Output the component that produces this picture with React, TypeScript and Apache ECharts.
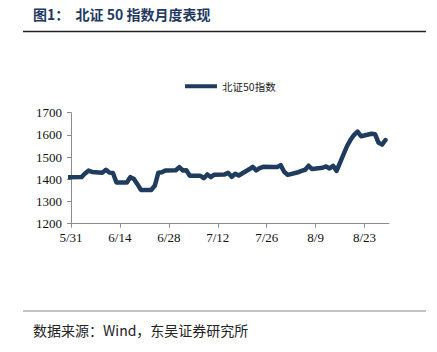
import React, { useEffect, useRef } from "react";
import * as echarts from "echarts";

const dates: string[] = [
  "2025-05-30", "2025-06-03", "2025-06-04", "2025-06-05", "2025-06-06",
  "2025-06-09", "2025-06-10", "2025-06-11", "2025-06-12", "2025-06-13",
  "2025-06-16", "2025-06-17", "2025-06-18", "2025-06-19", "2025-06-20",
  "2025-06-23", "2025-06-24", "2025-06-25", "2025-06-26", "2025-06-27",
  "2025-06-30", "2025-07-01", "2025-07-02", "2025-07-03", "2025-07-04",
  "2025-07-07", "2025-07-08", "2025-07-09", "2025-07-10", "2025-07-11",
  "2025-07-14", "2025-07-15", "2025-07-16", "2025-07-17", "2025-07-18",
  "2025-07-21", "2025-07-22", "2025-07-23", "2025-07-24", "2025-07-25",
  "2025-07-28", "2025-07-29", "2025-07-30", "2025-07-31", "2025-08-01",
  "2025-08-04", "2025-08-05", "2025-08-06", "2025-08-07", "2025-08-08",
  "2025-08-11", "2025-08-12", "2025-08-13", "2025-08-14", "2025-08-15",
  "2025-08-18", "2025-08-19", "2025-08-20", "2025-08-21", "2025-08-22",
  "2025-08-25", "2025-08-26", "2025-08-27", "2025-08-28", "2025-08-29",
];

const bse50: number[] = [
  1409, 1410, 1426, 1439, 1433,
  1430, 1443, 1430, 1428, 1386,
  1386, 1410, 1401, 1378, 1352,
  1352, 1372, 1430, 1432, 1440,
  1441, 1455, 1440, 1441, 1416,
  1416, 1405, 1422, 1410, 1421,
  1422, 1429, 1411, 1425, 1417,
  1445, 1456, 1440, 1450, 1456,
  1455, 1455, 1464, 1434, 1420,
  1432, 1438, 1443, 1461, 1446,
  1452, 1458, 1449, 1461, 1438,
  1550, 1578, 1600, 1615, 1594,
  1605, 1603, 1565, 1556, 1577,
];

const axisStartDate = "2025-05-31";
const axisEndDate = "2025-08-30";
const tickStepDays = 14;
const yTicks: number[] = [1200, 1300, 1400, 1500, 1600, 1700];
const seriesName = "北证50指数";
const titleText = "图1：  北证 50 指数月度表现";
const sourceText = "数据来源：Wind，东吴证券研究所";

const DAY = 86400000;
const base = Date.parse(axisStartDate + "T00:00:00Z");
const toDay = (s: string) => Math.round((Date.parse(s + "T00:00:00Z") - base) / DAY);
const dayLabel = (d: number) => {
  const dt = new Date(base + d * DAY);
  return `${dt.getUTCMonth() + 1}/${dt.getUTCDate()}`;
};

export default function App() {
  const ref = useRef<HTMLDivElement>(null);
  useEffect(() => {
    if (!ref.current) return;
    const chart = echarts.init(ref.current, undefined, { renderer: "svg" });
    const maxDay = toDay(axisEndDate);
    const tickDays: number[] = [];
    for (let d = 0; d <= maxDay; d += tickStepDays) tickDays.push(d);
    const serif = "Liberation Serif";
    chart.setOption({
      animation: false,
      backgroundColor: "#ffffff",
      grid: { left: 71, right: 48, top: 112.7, bottom: 128.3, containLabel: false },
      legend: {
        show: true,
        left: 180,
        top: 76,
        icon: "rect",
        itemWidth: 32,
        itemHeight: 4,
        textStyle: { fontSize: 10.5, color: "#222", fontFamily: "Noto Sans CJK SC" },
        data: [seriesName],
      },
      xAxis: {
        type: "value",
        min: 0,
        max: maxDay,
        interval: tickStepDays,
        axisLine: { show: true, lineStyle: { color: "#8c8c8c", width: 1 } },
        axisTick: { show: true, length: 4, lineStyle: { color: "#8c8c8c" }, customValues: tickDays },
        axisLabel: {
          customValues: tickDays,
          formatter: (v: number) => dayLabel(v),
          fontFamily: serif,
          fontSize: 13,
          color: "#111",
          margin: 7,
        },
        splitLine: { show: false },
      },
      yAxis: {
        type: "value",
        min: yTicks[0],
        max: yTicks[yTicks.length - 1],
        interval: 100,
        axisLine: { show: true, lineStyle: { color: "#8c8c8c", width: 1 } },
        axisTick: { show: true, length: 4, inside: false, lineStyle: { color: "#8c8c8c" } },
        axisLabel: { fontFamily: serif, fontSize: 13, color: "#111", margin: 9, formatter: (v: number) => String(v) },
        splitLine: { show: false },
      },
      series: [
        {
          name: seriesName,
          type: "line",
          data: dates.map((d, i) => [toDay(d), bse50[i]]),
          showSymbol: false,
          symbol: "none",
          clip: true,
          lineStyle: { color: "#1f3b5e", width: 4.5, cap: "round", join: "round" },
          itemStyle: { color: "#1f3b5e" },
        },
      ],
      graphic: [
        {
          type: "text",
          left: 33,
          top: 7,
          style: {
            text: titleText,
            fontFamily: "Noto Sans CJK SC",
            fontWeight: "bold",
            fontSize: 14,
            fill: "#1f3a5f",
          },
        },
        {
          type: "line",
          shape: { x1: 23, y1: 31.5, x2: 426, y2: 31.5 },
          style: { stroke: "#222", lineWidth: 1.5 },
        },
        {
          type: "line",
          shape: { x1: 23, y1: 311, x2: 426, y2: 311 },
          style: { stroke: "#888", lineWidth: 1 },
        },
        {
          type: "text",
          left: 33,
          top: 323,
          style: {
            text: sourceText,
            fontFamily: "Noto Sans CJK SC",
            fontSize: 14,
            fill: "#222",
          },
        },
      ],
    });
    return () => chart.dispose();
  }, []);
  return <div ref={ref} style={{ width: 437, height: 352, position: "absolute", left: 0, top: 0 }} />;
}
